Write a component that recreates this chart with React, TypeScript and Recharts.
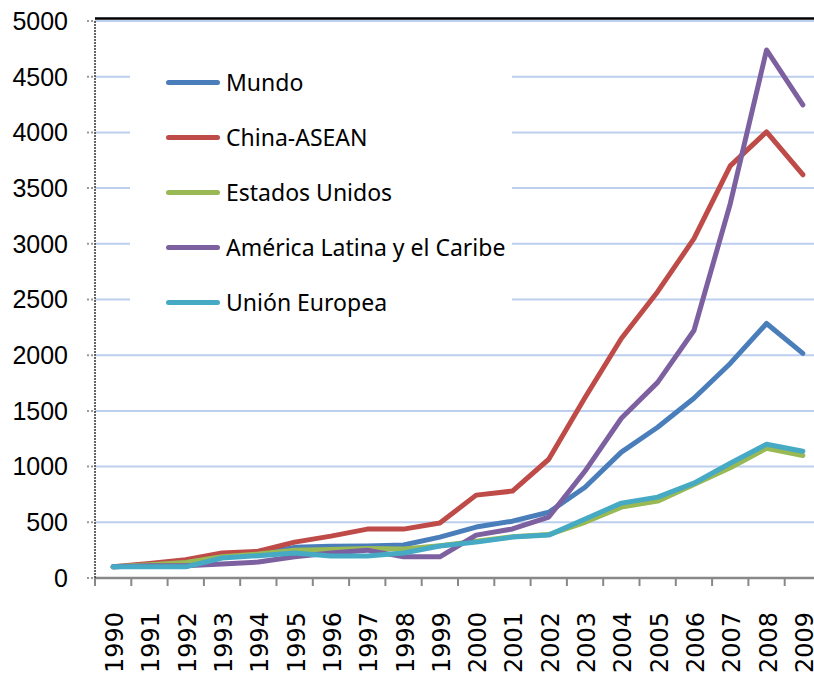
import React from 'react';
import { LineChart, Line, XAxis, YAxis, CartesianGrid, Legend, ReferenceLine } from 'recharts';

const years = ['1990','1991','1992','1993','1994','1995','1996','1997','1998','1999','2000','2001','2002','2003','2004','2005','2006','2007','2008','2009'];
const mundo = [100,110,120,190,220,275,285,287,296,367,457,510,590,815,1130,1353,1613,1926,2285,2016];
const chinaAsean = [100,130,165,224,240,322,376,439,439,493,744,780,1066,1620,2150,2570,3046,3700,4005,3620];
const estadosUnidos = [100,120,140,190,215,250,255,265,260,290,330,370,390,500,636,690,840,990,1165,1100];
const americaLatina = [100,110,110,125,143,190,224,250,190,190,385,440,547,960,1434,1756,2222,3360,4740,4247];
const unionEuropea = [100,100,100,180,200,224,197,197,224,287,322,367,385,529,672,726,851,1030,1200,1138];
const seriesNames = ['Mundo', 'China-ASEAN', 'Estados Unidos', 'América Latina y el Caribe', 'Unión Europea'];
const yTicks = [0,500,1000,1500,2000,2500,3000,3500,4000,4500,5000];

const data = years.map((y, i) => ({
  year: y,
  mundo: mundo[i],
  china: chinaAsean[i],
  eeuu: estadosUnidos[i],
  latam: americaLatina[i],
  ue: unionEuropea[i],
}));

const BW = 36.3;

const XTick = (props: any) => {
  const { x, y, payload, index } = props;
  return (
    <g>
      <line x1={x + BW / 2} y1={y} x2={x + BW / 2} y2={y + 8} stroke="#888" strokeWidth={2} />
      {index === 0 && <line x1={x - BW / 2} y1={y} x2={x - BW / 2} y2={y + 8} stroke="#888" strokeWidth={2} />}
      <text
        x={x}
        y={y + 34}
        dy={10}
        transform={`rotate(-90, ${x}, ${y + 34})`}
        textAnchor="end"
        fontFamily="DejaVu Sans"
        fontSize={24}
        fill="#000"
      >
        {payload.value}
      </text>
    </g>
  );
};

const LegendContent = (props: any) => {
  const items = [...(props.payload || [])].sort(
    (a: any, b: any) => seriesNames.indexOf(a.value) - seriesNames.indexOf(b.value)
  );
  return (
    <div style={{ width: 382, height: 290, background: '#fff', paddingTop: 14.5, boxSizing: 'border-box' }}>
      {items.map((p: any) => (
        <div key={p.value} style={{ height: 55, display: 'flex', alignItems: 'center' }}>
          <div style={{ marginLeft: 36, width: 54, height: 5, borderRadius: 3, background: p.color }} />
          <span style={{ marginLeft: 6, fontFamily: 'Noto Sans', fontSize: 23, color: '#000', lineHeight: '30px' }}>{p.value}</span>
        </div>
      ))}
    </div>
  );
};

const TopLine = (p: any) => (
  <line x1={p.x1} y1={p.y1 - 2.5} x2={p.x2} y2={p.y2 - 2.5} stroke="#000" strokeWidth={2.5} />
);

export default function App() {
  return (
    <div style={{ position: 'fixed', left: 0, top: 0, width: 814, height: 678, overflow: 'hidden', background: '#fff' }}>
      <LineChart width={830} height={678} data={data} margin={{ top: 21, right: 9, left: 35, bottom: 0 }}>
        <CartesianGrid horizontal vertical={false} stroke="#bccfee" strokeWidth={2} />
        <XAxis
          dataKey="year"
          height={100}
          padding={{ left: BW / 2, right: BW / 2 }}
          axisLine={{ stroke: '#888', strokeWidth: 2.5 }}
          tickLine={false}
          tickSize={0}
          tickMargin={0}
          interval={0}
          tick={<XTick />}
        />
        <YAxis
          width={60}
          domain={[0, 5000]}
          ticks={yTicks}
          interval={0}
          axisLine={{ stroke: '#333', strokeWidth: 1.5, strokeDasharray: '2 1' }}
          tickLine={{ stroke: '#999', strokeWidth: 2, strokeDasharray: '2 2' }}
          tickSize={8}
          tickMargin={19}
          tick={{ fontFamily: 'Liberation Sans', fontSize: 25, fill: '#000' }}
        />
        <ReferenceLine y={5000} shape={TopLine} ifOverflow="visible" />
        <Legend
          layout="vertical"
          align="center"
          verticalAlign="middle"
          itemSorter={null as any}
          wrapperStyle={{ left: 130, top: 40, width: 382, height: 290 }}
          content={<LegendContent />}
        />
        <Line type="linear" dataKey="mundo" name={seriesNames[0]} stroke="#4a7ebb" strokeWidth={5} dot={false} strokeLinecap="round" strokeLinejoin="round" isAnimationActive={false} />
        <Line type="linear" dataKey="china" name={seriesNames[1]} stroke="#be4b48" strokeWidth={5} dot={false} strokeLinecap="round" strokeLinejoin="round" isAnimationActive={false} />
        <Line type="linear" dataKey="eeuu" name={seriesNames[2]} stroke="#98b954" strokeWidth={5} dot={false} strokeLinecap="round" strokeLinejoin="round" isAnimationActive={false} />
        <Line type="linear" dataKey="latam" name={seriesNames[3]} stroke="#7d60a0" strokeWidth={5} dot={false} strokeLinecap="round" strokeLinejoin="round" isAnimationActive={false} />
        <Line type="linear" dataKey="ue" name={seriesNames[4]} stroke="#46aac5" strokeWidth={5} dot={false} strokeLinecap="round" strokeLinejoin="round" isAnimationActive={false} />
      </LineChart>
    </div>
  );
}
